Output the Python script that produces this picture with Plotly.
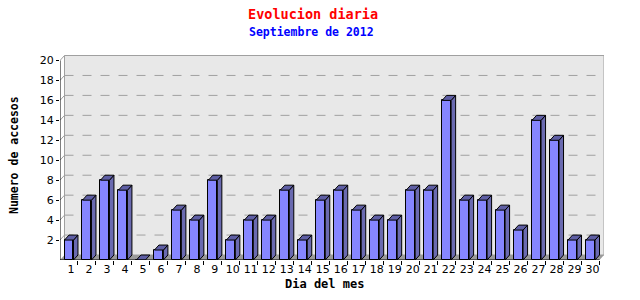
import plotly.graph_objects as go

days = list(range(1, 31))
accesos = [2, 6, 8, 7, 0, 1, 5, 4, 8, 2, 4, 4, 7, 2, 6, 7, 5, 4, 4, 7, 7, 16, 6, 6, 5, 3, 14, 12, 2, 2]
y_ticks = [2, 4, 6, 8, 10, 12, 14, 16, 18, 20]
title = "Evolucion diaria"
subtitle = "Septiembre de 2012"
x_title = "Dia del mes"
y_title = "Numero de accesos"

FRONT = "#8686FF"
SIDE = "#6A6AB0"
TOP = "#5E5EA4"
WALL = "#E8E8E8"
GRID = "#A0A0A0"
FLOOR = "#9A9A9A"

BW = 0.5      # bar width (category units)
DX = 0.25     # depth in x units
DY = 0.5      # depth in y units
X0 = days[0] - 0.5
X1 = days[-1] + 0.5
YMAX = y_ticks[-1]

shapes = []
# back wall
shapes.append(dict(type="rect", xref="x", yref="y", x0=X0 + DX, x1=X1 + DX, y0=DY, y1=YMAX + DY,
                   fillcolor=WALL, line=dict(color=GRID, width=1), layer="below"))
# left wall top corner
shapes.append(dict(type="line", xref="x", yref="y", x0=X0, y0=YMAX, x1=X0 + DX, y1=YMAX + DY,
                   line=dict(color=GRID, width=1), layer="below"))
# grid lines on back wall + connectors
for v in y_ticks[:-1]:
    shapes.append(dict(type="line", xref="x", yref="y", x0=X0 + DX, x1=X1 + DX, y0=v + DY, y1=v + DY,
                       line=dict(color=GRID, width=1, dash="dash"), layer="below"))
    shapes.append(dict(type="line", xref="x", yref="y", x0=X0, y0=v, x1=X0 + DX, y1=v + DY,
                       line=dict(color=GRID, width=1), layer="below"))
# floor
shapes.append(dict(type="path", xref="x", yref="y",
                   path=f"M{X0},0 L{X0+DX},{DY} L{X1+DX},{DY} L{X1},0 Z",
                   fillcolor=FLOOR, line=dict(width=0), layer="below"))

# 3D faces of bars
for d, v in zip(days, accesos):
    xl = d - BW / 2
    xr = d + BW / 2
    if v > 0:
        shapes.append(dict(type="path", xref="x", yref="y",
                           path=f"M{xr},0 L{xr+DX},{DY} L{xr+DX},{v+DY} L{xr},{v} Z",
                           fillcolor=SIDE, line=dict(color="black", width=1), layer="above"))
    shapes.append(dict(type="path", xref="x", yref="y",
                       path=f"M{xl},{v} L{xr},{v} L{xr+DX},{v+DY} L{xl+DX},{v+DY} Z",
                       fillcolor=TOP, line=dict(color="black", width=1), layer="above"))

# axis lines
shapes.append(dict(type="line", xref="x", yref="y", x0=X0, x1=X1, y0=0, y1=0,
                   line=dict(color="black", width=1), layer="above"))
shapes.append(dict(type="line", xref="x", yref="y", x0=X0, x1=X0, y0=0, y1=YMAX,
                   line=dict(color="black", width=1), layer="above"))

fig = go.Figure()
fig.add_trace(go.Bar(x=days, y=accesos, width=BW, marker=dict(color=FRONT, line=dict(color="black", width=1)),
                     hoverinfo="x+y"))

font_main = "DejaVu Sans Mono"
fig.update_layout(
    width=640, height=300,
    margin=dict(l=60, r=36, t=55, b=40, pad=0),
    paper_bgcolor="white", plot_bgcolor="white",
    showlegend=False,
    bargap=0,
    shapes=shapes,
    xaxis=dict(range=[X0, X1 + DX], tickmode="array", tickvals=days, ticktext=[str(d) for d in days],
               ticks="", showgrid=False, zeroline=False, showline=False,
               ticklabelshift=2, ticklabelstandoff=1,
               tickfont=dict(family="DejaVu Sans", size=11, color="black"),
               minor=dict(tickmode="array", tickvals=[d + 0.5 for d in days], ticks="outside",
                          ticklen=4, tickcolor="black", showgrid=False)),
    yaxis=dict(range=[0, YMAX + 0.55], tickmode="array", tickvals=y_ticks, ticks="outside", ticklen=3,
               tickcolor="black", showgrid=False, zeroline=False, showline=False,
               tickfont=dict(family="DejaVu Sans", size=11, color="black")),
    annotations=[
        dict(text=f"<b>{title}</b>", x=313, y=14, showarrow=False,
             font=dict(family=font_main, size=13.5, color="#FF0000"), xanchor="center", yanchor="middle"),
        dict(text=f"<b>{subtitle}</b>", x=311, y=32, showarrow=False,
             font=dict(family=font_main, size=11.5, color="#0000FF"), xanchor="center", yanchor="middle"),
        dict(text=f"<b>{x_title}</b>", x=324, y=284, showarrow=False,
             font=dict(family=font_main, size=12, color="black"), xanchor="center", yanchor="middle"),
        dict(text=f"<b>{y_title}</b>", x=14, y=155, showarrow=False, textangle=-90,
             font=dict(family=font_main, size=11.5, color="black"), xanchor="center", yanchor="middle"),
    ],
)

# convert pixel annotation positions to paper coords
W, H = 640, 300
l, r, t, b = 60, 36, 55, 40
pw, ph = W - l - r, H - t - b
for a in fig.layout.annotations:
    px, py = a.x, a.y
    a.xref = "paper"
    a.yref = "paper"
    a.x = (px - l) / pw
    a.y = (H - b - py) / ph

fig.write_html("out.html")
